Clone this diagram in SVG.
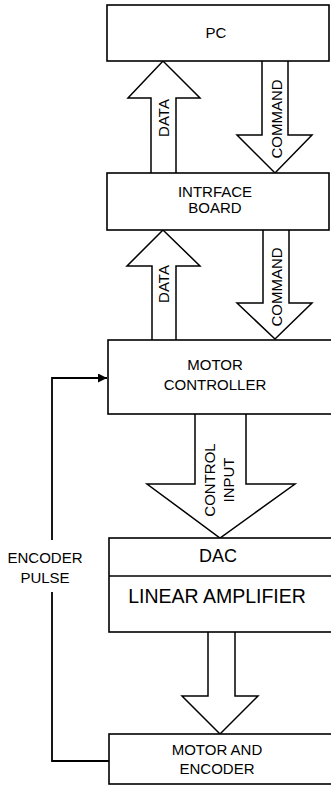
<svg xmlns="http://www.w3.org/2000/svg" width="331" height="786" viewBox="0 0 331 786">
<style>
.box{fill:#fff;stroke:#000;stroke-width:1.6}
.arr{fill:#fff;stroke:#000;stroke-width:1.5;stroke-linejoin:miter}
.ln{fill:none;stroke:#000;stroke-width:1.8}
text{font-family:"Liberation Sans",Arial,sans-serif;font-size:15px;fill:#000;text-anchor:middle}
</style>
<defs>
<marker id="ah" viewBox="0 0 10 10" refX="10" refY="5" markerWidth="10" markerHeight="9" markerUnits="userSpaceOnUse" orient="auto">
<path d="M0,0 L10,5 L0,10 Z" fill="#000"/>
</marker>
</defs>
<rect width="331" height="786" fill="#fff"/>
<g id="connectors">
<g id="data1"><path class="arr" d="M151,173 L151,98 L128,98 L163,61 L200,98 L176,98 L176,173"/><text transform="translate(169,118) rotate(-90)">DATA</text></g>
<g id="command1"><path class="arr" d="M262,61 L262,135 L237,135 L275,173 L312,135 L288,135 L288,61"/><text transform="translate(282,119) rotate(-90)">COMMAND</text></g>
<g id="data2"><path class="arr" d="M152,340 L152,266 L127,266 L163,230 L200,266 L176,266 L176,340"/><text transform="translate(169,284) rotate(-90)">DATA</text></g>
<g id="command2"><path class="arr" d="M263,230 L263,303 L237,303 L275,339 L312,303 L289,303 L289,230"/><text transform="translate(282,287) rotate(-90)">COMMAND</text></g>
<g id="control"><path class="arr" d="M195,414 L195,484 L147,484 L220,538 L295,484 L246,484 L246,414"/><text transform="translate(215,480) rotate(-90)">CONTROL</text><text transform="translate(234,480) rotate(-90)">INPUT</text></g>
<g id="drive"><path class="arr" d="M208,632 L208,696 L182,696 L220,734 L258,696 L235,696 L235,632"/></g>
<g id="feedback"><path class="ln" d="M109,761 L52,761 L52,592"/><path class="ln" d="M52,540 L52,378 L107,378" marker-end="url(#ah)"/><text x="45" y="563">ENCODER</text><text x="45" y="583">PULSE</text></g>
</g>
<g id="pc"><rect class="box" x="107" y="5" width="222" height="56"/><text x="216" y="38">PC</text></g>
<g id="interface"><rect class="box" x="107" y="173" width="222" height="57"/><text x="215" y="197">INTRFACE</text><text x="215" y="213">BOARD</text></g>
<g id="motorcontroller"><rect class="box" x="108" y="340" width="226" height="74"/><text x="215" y="370">MOTOR</text><text x="215" y="390">CONTROLLER</text></g>
<g id="dac"><rect class="box" x="109" y="538" width="226" height="94"/><line class="ln" x1="109" y1="576" x2="335" y2="576" style="stroke-width:1.6"/><text x="218" y="562" style="font-size:18px">DAC</text><text x="217" y="603" style="font-size:19.5px">LINEAR AMPLIFIER</text></g>
<g id="motorencoder"><rect class="box" x="109" y="734" width="226" height="50"/><text x="217" y="755">MOTOR AND</text><text x="217" y="774">ENCODER</text></g>
</svg>
